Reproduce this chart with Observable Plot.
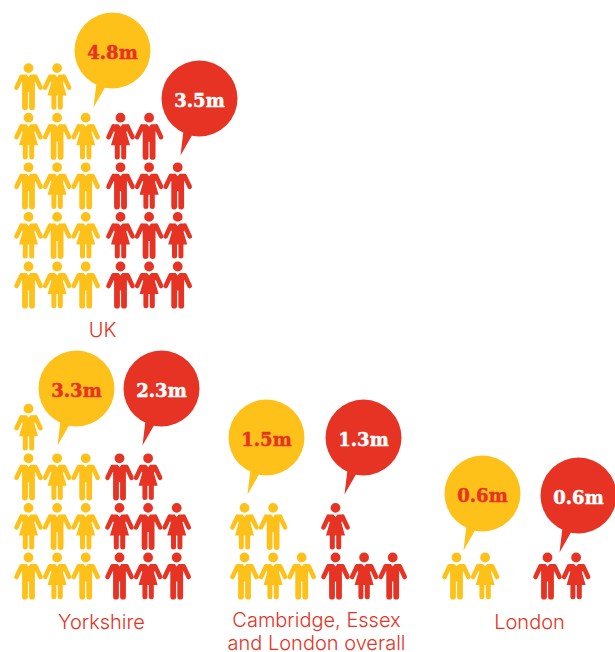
<!DOCTYPE html>
<html><head><meta charset="utf-8">
<style>html,body{margin:0;padding:0;background:#fff;overflow:hidden}svg{display:block}</style>
<script src="https://cdn.jsdelivr.net/npm/d3@7"></script>
<script src="https://cdn.jsdelivr.net/npm/@observablehq/plot@0.6"></script>
</head><body><div id="chart"></div>
<script>
// Values
const regions = ["UK", "Yorkshire", "Cambridge, Essex\nand London overall", "London"];
const yellowValues = ["4.8m", "3.3m", "1.5m", "0.6m"];
const redValues = ["3.5m", "2.3m", "1.3m", "0.6m"];
// Figures, top row first: M = man, W = woman
const yellowRows = [
  ["MW", "WMW", "MWM", "WMW", "MWM"],
  ["W", "MWM", "WMW", "MWM"],
  ["WM", "MWM"],
  ["MW"]
];
const redRows = [
  ["WM", "MWM", "WMW", "MWM"],
  ["MW", "WMW", "MWM"],
  ["W", "MWM"],
  ["MW"]
];

// Layout
const W = 615, H = 652;
const YELLOW = "#fec11a", RED = "#e63323";
const columnX = [[28, 120], [28, 119], [244, 335], [456, 547]];
const bottomY = [266, 557, 557, 557];
const labelPos = [[102, 329], [101, 621], [316, 619], [529, 621]];
const yellowBubble = [[112, 50], [76, 388], [266, 437], [482, 493]];
const redBubble = [[199, 98], [161, 388], [363, 437], [578, 495]];
const colStep = 28.6, rowStep = 49.6;

const capsule = (c, x1, y1, x2, y2, w) => {
  const a = Math.atan2(y2 - y1, x2 - x1), r = w / 2;
  c.moveTo(x2 + r * Math.cos(a - Math.PI / 2), y2 + r * Math.sin(a - Math.PI / 2));
  c.arc(x2, y2, r, a - Math.PI / 2, a + Math.PI / 2);
  c.arc(x1, y1, r, a + Math.PI / 2, a + 3 * Math.PI / 2);
  c.closePath();
};
const poly = (c, pts) => {
  c.moveTo(...pts[0]);
  pts.slice(1).forEach(p => c.lineTo(...p));
  c.closePath();
};
const unit = (c, size, draw) => {
  const k = Math.sqrt(size / Math.PI) / 24;
  const t = {
    moveTo: (x, y) => c.moveTo(x * k, y * k),
    lineTo: (x, y) => c.lineTo(x * k, y * k),
    arc: (x, y, r, a0, a1) => c.arc(x * k, y * k, r * k, a0, a1),
    closePath: () => c.closePath()
  };
  draw(t);
};
const head = t => { t.moveTo(4.9, 0); t.arc(0, 0, 4.9, 0, Math.PI); t.arc(0, 0, 4.9, Math.PI, 2 * Math.PI); t.closePath(); };
const arms = t => {
  capsule(t, -7, 8.8, -12, 19.5, 4.6);
  capsule(t, 7, 8.8, 12, 19.5, 4.6);
};
const man = {draw(c, size) { unit(c, size, t => {
  head(t); arms(t);
  poly(t, [[-7, 6.5], [-2, 6.5], [0, 9], [2, 6.5], [7, 6.5], [8, 11], [6.4, 14], [6.4, 24], [-6.4, 24], [-6.4, 14], [-8, 11]]);
  capsule(t, -3.5, 22, -3.5, 39.2, 5.8);
  capsule(t, 3.5, 22, 3.5, 39.2, 5.8);
}); }};
const woman = {draw(c, size) { unit(c, size, t => {
  head(t); arms(t);
  poly(t, [[-7, 6.5], [-2, 6.5], [0, 9], [2, 6.5], [7, 6.5], [8, 11], [5.8, 14.5], [9.5, 27.5], [-9.5, 27.5], [-5.8, 14.5], [-8, 11]]);
  capsule(t, -3.2, 26, -3.2, 39.2, 5);
  capsule(t, 3.2, 26, 3.2, 39.2, 5);
}); }};
const bubble = {draw(c, size) { unit(c, size, t => {
  t.moveTo(38, 0);
  t.arc(0, 0, 38, 0, Math.PI);
  t.arc(0, 0, 38, Math.PI, 2 * Math.PI);
  t.closePath();
  poly(t, [[-7, 36], [-19, 57], [-16, 32], [-12, 20], [-5, 20]]);
}); }};

const figures = [];
[[yellowRows, YELLOW, 0], [redRows, RED, 1]].forEach(([rows, fill, s]) => {
  rows.forEach((groupRows, g) => {
    groupRows.forEach((row, i) => {
      [...row].forEach((kind, col) => {
        figures.push({
          kind, fill,
          x: columnX[g][s] + col * colStep,
          y: bottomY[g] - (groupRows.length - 1 - i) * rowStep
        });
      });
    });
  });
});
const bubbles = [
  ...yellowValues.map((v, i) => ({v, fill: YELLOW, ink: RED, x: yellowBubble[i][0], y: yellowBubble[i][1]})),
  ...redValues.map((v, i) => ({v, fill: RED, ink: "#fff", x: redBubble[i][0], y: redBubble[i][1]}))
];
const labels = regions.map((t, i) => ({t, x: labelPos[i][0], y: labelPos[i][1]}));
const lineMid = d => d.t.includes("\n") ? d.y + 11.5 : d.y;

const chart = Plot.plot({
  width: W, height: H,
  margin: 0,
  x: {type: "linear", domain: [0, W], range: [0, W], axis: null},
  y: {type: "linear", domain: [0, H], range: [0, H], axis: null},
  style: {background: "#fff"},
  marks: [
    Plot.dot(figures.filter(d => d.kind === "M"), {x: "x", y: "y", symbol: man, r: 24, fill: d => d.fill, stroke: "none"}),
    Plot.dot(figures.filter(d => d.kind === "W"), {x: "x", y: "y", symbol: woman, r: 24, fill: d => d.fill, stroke: "none"}),
    Plot.dot(bubbles, {x: "x", y: "y", symbol: bubble, r: 24, fill: d => d.fill, stroke: "none"}),
    Plot.text(bubbles, {x: "x", y: "y", dy: 3, text: "v", fill: d => d.ink, stroke: d => d.ink, strokeWidth: 0.5, fontFamily: "DejaVu Serif", fontWeight: "bold", fontSize: 18}),
    Plot.text(labels, {x: "x", y: lineMid, text: "t", fill: RED, fontFamily: "Inter", fontWeight: 300, fontSize: 20, lineHeight: 1.15})
  ]
});
document.getElementById("chart").append(chart);
</script></body></html>
